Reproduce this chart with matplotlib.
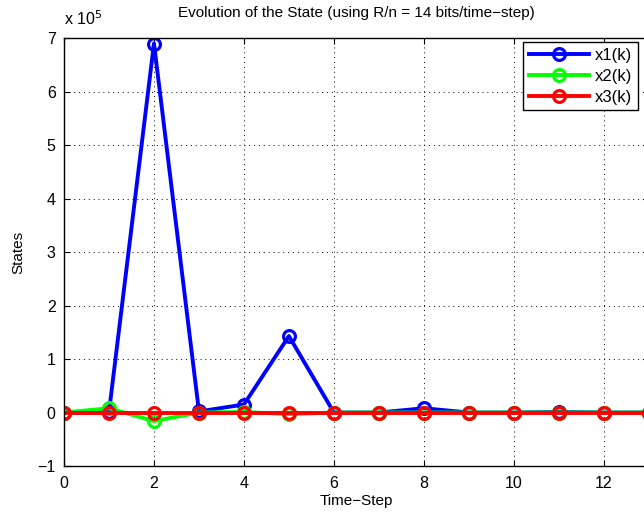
import matplotlib
matplotlib.use("Agg")
import matplotlib.pyplot as plt

plt.rcParams.update({
    'font.family': ['Liberation Sans', 'DejaVu Sans'],
    'font.size': 11,
    'xtick.direction': 'in',
    'ytick.direction': 'in',
    'axes.linewidth': 1.0,
})

# data (states in units of 1e5)
steps = list(range(14))
x1 = [0, 0.01, 6.9, 0.02, 0.15, 1.43, 0.0, 0.0, 0.08, 0.0, 0.0, 0.01, 0.0, 0.0]
x2 = [0, 0.08, -0.16, 0.0, 0.01, -0.03, 0.0, 0.0, 0.0, 0.0, 0.0, 0.0, 0.0, 0.0]
x3 = [0] * 14
series_names = ['x1(k)', 'x2(k)', 'x3(k)']
xticks = [0, 2, 4, 6, 8, 10, 12]
yticks = [-1, 0, 1, 2, 3, 4, 5, 6, 7]

fig = plt.figure(figsize=(6.44, 5.13), dpi=100)
ax = fig.add_axes([0.0994, 0.0916, 0.908, 0.834])

for ys, col, name in zip([x1, x2, x3], ['#0000ff', '#00ff00', '#ff0000'], series_names):
    ax.plot(steps, ys, '-o', color=col, lw=2.8, ms=8.5, mfc='none', mew=2.3, label=name)

ax.set_xlim(0, 13)
ax.set_ylim(-1, 7)
ax.set_xticks(xticks)
ax.set_yticks(yticks)
ax.set_yticklabels(['\u22121'] + [str(t) for t in yticks[1:]])
ax.tick_params(labelsize=11.5, length=4, top=True, right=True)
ax.tick_params(axis='x', pad=7)
ax.tick_params(axis='y', pad=6)
ax.grid(True, linestyle=(0, (1, 4)), color='black', lw=0.7)

ax.set_title("Evolution of the State (using R/n = 14 bits/time\u2212step)", fontsize=11, pad=15)
ax.set_xlabel("Time\u2212Step", fontsize=11, labelpad=2)
ax.set_ylabel("States", fontsize=11, labelpad=9)
fig.text(0.1, 0.945, r"x 10$^{5}$", fontsize=11.5, ha='left', va='bottom')

leg = ax.legend(loc='upper right', bbox_to_anchor=(0.981, 0.991), borderaxespad=0,
                fancybox=False, edgecolor='black', framealpha=1, fontsize=12,
                handlelength=3.6, borderpad=0.35, labelspacing=0.35, handletextpad=0.35)
leg.get_frame().set_linewidth(1.0)

plt.savefig("out.png", dpi=100)
